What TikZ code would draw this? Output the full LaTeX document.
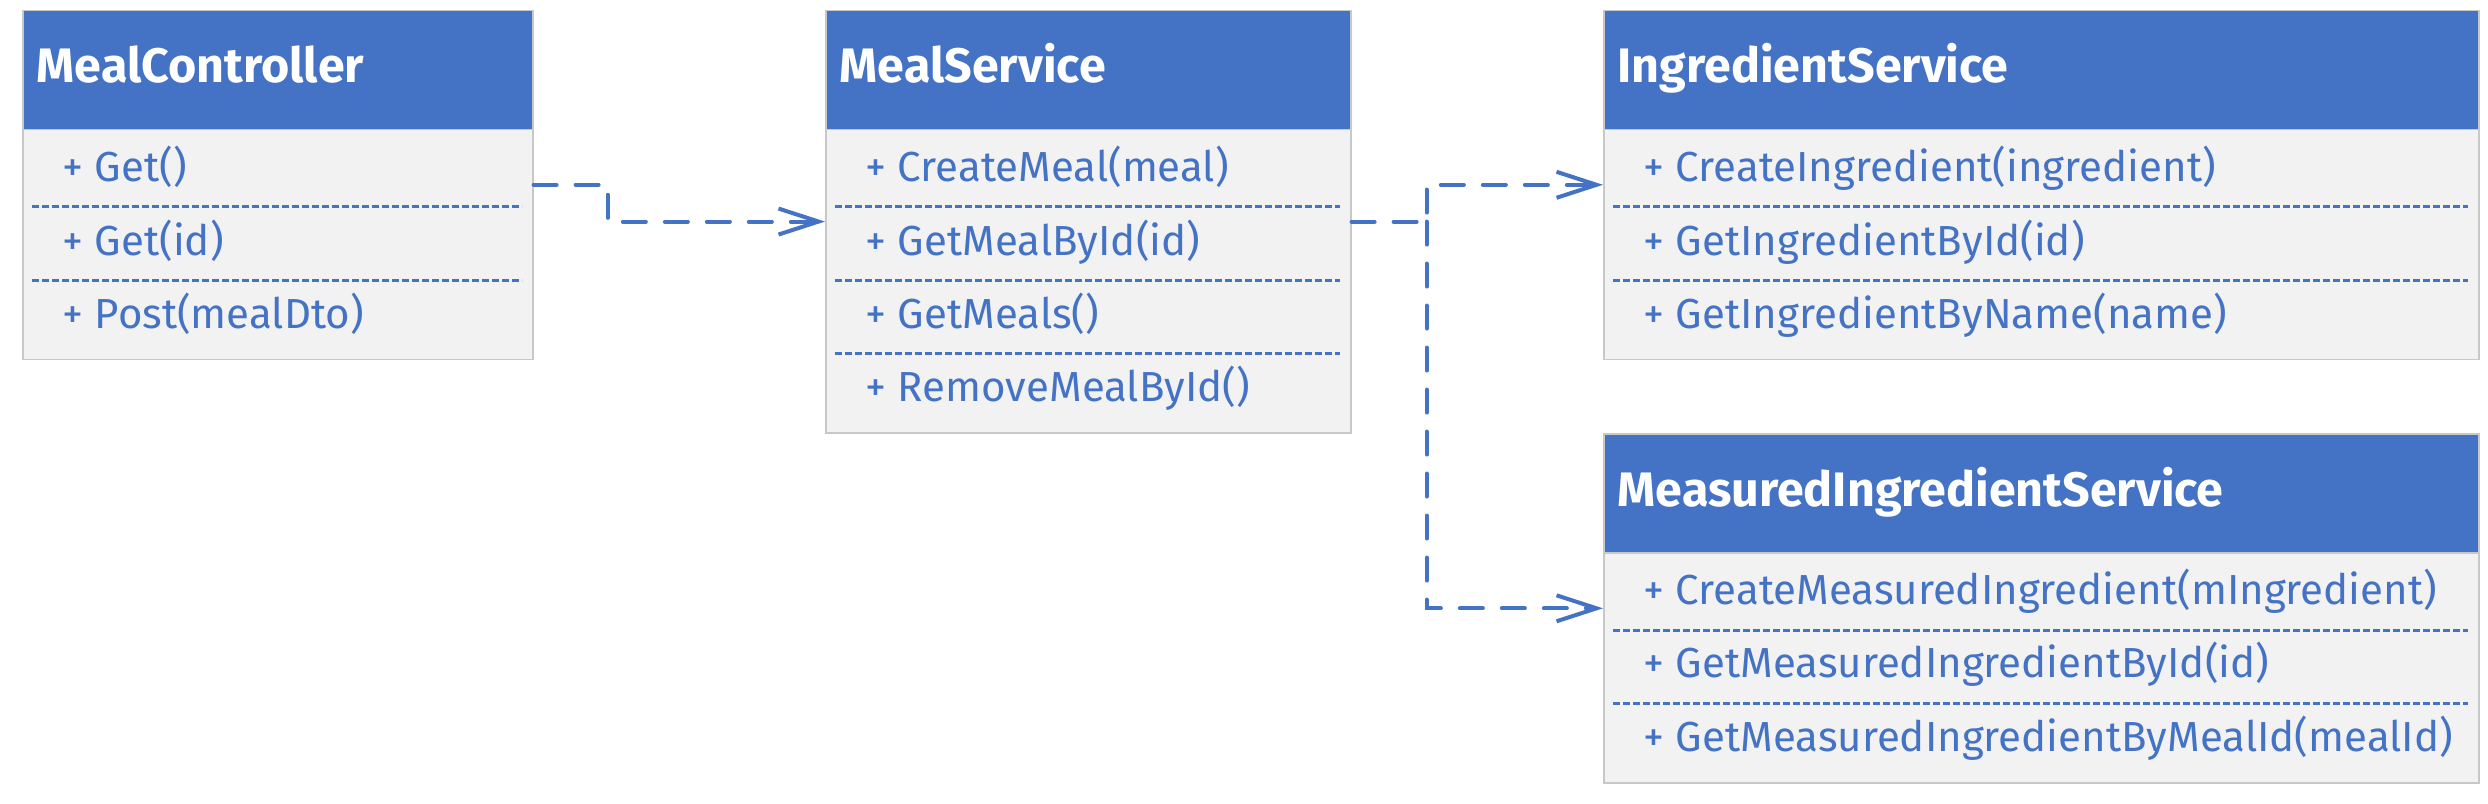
\documentclass[tikz,border=0pt]{standalone}
\usepackage{fontspec}
\setmainfont{Fira Sans}
\usepackage{tikz}
\usetikzlibrary{calc}
\usetikzlibrary{arrows.meta, positioning}
\definecolor{umlblue}{HTML}{4472C4}
\definecolor{umlgray}{HTML}{F2F2F2}
\definecolor{umlborder}{HTML}{C8C8C8}

\begin{document}
\begin{tikzpicture}[x=0.25pt, y=-0.25pt]
 \tikzstyle{classbox}=[rectangle, anchor=north west, fill=umlgray, draw=umlborder, line width=0.4pt, inner sep=0pt]
 \tikzstyle{headbox}=[rectangle, anchor=north west, fill=umlblue, draw=umlborder, line width=0.4pt, inner sep=0pt, minimum height=29.75pt]
 \tikzstyle{title}=[anchor=base west, inner sep=0pt, text=white, font=\fontsize{12.1pt}{14pt}\selectfont\bfseries]
 \tikzstyle{method}=[anchor=base west, inner sep=0pt, text=umlblue, font=\fontsize{10.5pt}{12pt}\selectfont]
 \tikzstyle{sep}=[draw=umlblue, line width=0.75pt, dash pattern=on 1.7pt off 0.8pt]
 \tikzstyle{line}=[draw=umlblue, line width=1pt, line cap=round, dash pattern=on 5.75pt off 4.75pt, -{Straight Barb[length=10pt, width=6.5pt]}]

 \useasboundingbox (0, 0) rectangle (2488, 804);

 % MealController
 \draw (22, 9.5) node[classbox, minimum width=127.5pt, minimum height=87.25pt] (mc) {};
 \draw (22, 9.5) node[headbox, minimum width=127.5pt] (mch) {};
 \draw (36, 82.7) node[title] (mct) {MealController};
 \draw (62, 181.7) node[method] (mc1) {+ Get()};
 \draw (62, 255) node[method] (mc2) {+ Get(id)};
 \draw (62, 328.3) node[method] (mc3) {+ Post(mealDto)};
 \draw[sep] (32, 206.7) -- (522, 206.7);
 \draw[sep] (32, 280) -- (522, 280);

 % MealService
 \draw (825, 9.5) node[classbox, minimum width=131.25pt, minimum height=105.625pt] (ms) {};
 \draw (825, 9.5) node[headbox, minimum width=131.25pt] (msh) {};
 \draw (839, 82.7) node[title] (mst) {MealService};
 \draw (865, 181.7) node[method] (ms1) {+ CreateMeal(meal)};
 \draw (865, 255) node[method] (ms2) {+ GetMealById(id)};
 \draw (865, 328.3) node[method] (ms3) {+ GetMeals()};
 \draw (865, 401.6) node[method] (ms4) {+ RemoveMealById()};
 \draw[sep] (835, 206.7) -- (1340, 206.7);
 \draw[sep] (835, 280) -- (1340, 280);
 \draw[sep] (835, 353.3) -- (1340, 353.3);

 % IngredientService
 \draw (1603, 9.5) node[classbox, minimum width=218.75pt, minimum height=87.25pt] (is) {};
 \draw (1603, 9.5) node[headbox, minimum width=218.75pt] (ish) {};
 \draw (1617, 82.7) node[title] (ist) {IngredientService};
 \draw (1643, 181.7) node[method] (is1) {+ CreateIngredient(ingredient)};
 \draw (1643, 255) node[method] (is2) {+ GetIngredientById(id)};
 \draw (1643, 328.3) node[method] (is3) {+ GetIngredientByName(name)};
 \draw[sep] (1613, 206.7) -- (2468, 206.7);
 \draw[sep] (1613, 280) -- (2468, 280);

 % MeasuredIngredientService
 \draw (1603, 433) node[classbox, minimum width=218.75pt, minimum height=87.25pt] (mis) {};
 \draw (1603, 433) node[headbox, minimum width=218.75pt] (mish) {};
 \draw (1617, 506) node[title] (mist) {MeasuredIngredientService};
 \draw (1643, 604.5) node[method] (mis1) {+ CreateMeasuredIngredient(mIngredient)};
 \draw (1643, 677.8) node[method] (mis2) {+ GetMeasuredIngredientById(id)};
 \draw (1643, 751.1) node[method] (mis3) {+ GetMeasuredIngredientByMealId(mealId)};
 \draw[sep] (1613, 630) -- (2468, 630);
 \draw[sep] (1613, 703.3) -- (2468, 703.3);

 % dependencies
 \coordinate (mcbend) at ($(mc.east) + (74, 0)$);
 \coordinate (msbend) at ($(ms.east) + (75, 0)$);
 \path [line] (mc.east) -- (mcbend) |- (ms.west);
 \path [line] (ms.east) -- (msbend) |- (is.west);
 \path [line] (msbend) |- (mis.west);

\end{tikzpicture}
\end{document}
